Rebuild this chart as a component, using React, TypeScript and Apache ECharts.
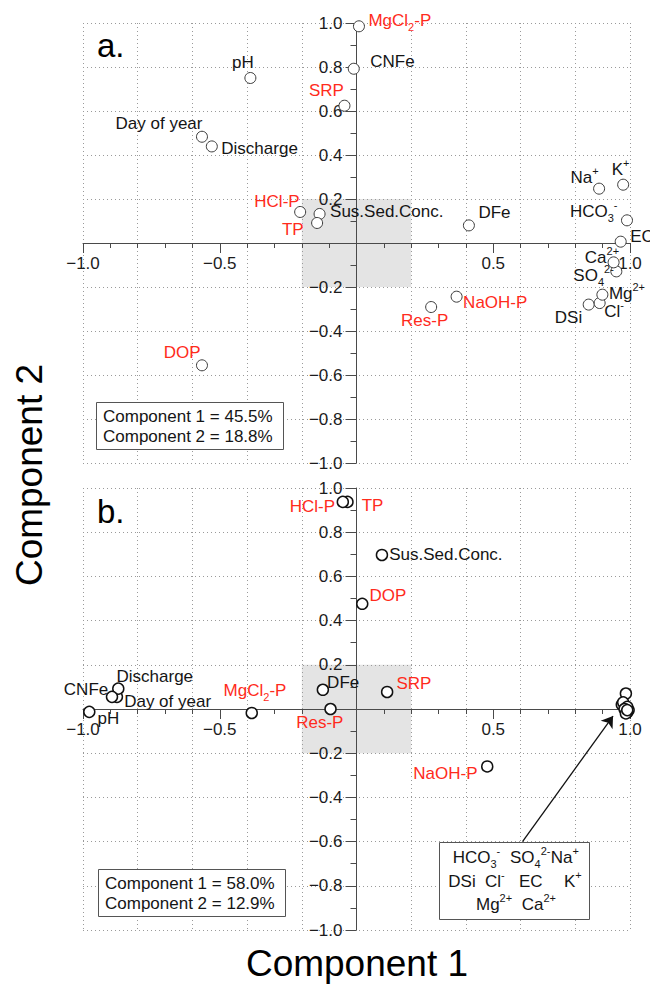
import React, { useEffect, useRef } from 'react';
import * as echarts from 'echarts';

// ---------------- data ----------------
const variables = [
  'pH', 'Day of year', 'Discharge', 'CNFe', 'Sus.Sed.Conc.', 'DFe', 'DSi', 'EC',
  'HCO3-', 'SO42-', 'Cl-', 'Na+', 'K+', 'Mg2+', 'Ca2+',
  'SRP', 'DOP', 'TP', 'Res-P', 'NaOH-P', 'HCl-P', 'MgCl2-P',
];
const phosphorusVars = ['SRP', 'DOP', 'TP', 'Res-P', 'NaOH-P', 'HCl-P', 'MgCl2-P'];

// panel a loadings
const comp1A = [-0.388, -0.565, -0.529, -0.01, -0.135, 0.411, 0.849, 0.966,
  0.989, 0.95, 0.889, 0.887, 0.975, 0.899, 0.94,
  -0.044, -0.565, -0.144, 0.273, 0.366, -0.206, 0.009];
const comp2A = [0.75, 0.483, 0.439, 0.792, 0.132, 0.08, -0.28, 0.006,
  0.103, -0.129, -0.273, 0.247, 0.265, -0.235, -0.088,
  0.624, -0.556, 0.091, -0.291, -0.244, 0.141, 0.985];

// panel b loadings
const comp1B = [-0.977, -0.876, -0.871, -0.894, 0.093, -0.123, 0.97, 0.995,
  0.985, 0.975, 0.99, 0.98, 0.99, 0.985, 0.99,
  0.112, 0.021, -0.033, -0.095, 0.478, -0.05, -0.383];
const comp2B = [-0.013, 0.055, 0.092, 0.055, 0.697, 0.087, 0.02, -0.005,
  0.07, 0.03, 0.01, 0.0, -0.015, -0.02, -0.005,
  0.077, 0.476, 0.937, 0.0, -0.26, 0.937, -0.018];

const varianceA = ['Component 1 = 45.5%', 'Component 2 = 18.8%'];
const varianceB = ['Component 1 = 58.0%', 'Component 2 = 12.9%'];
const clusterNote = [
  ['HCO{sub|3}{sup|-}', 'SO{sub|4}{sup|2-}', 'Na{sup|+}'],
  ['DSi', 'Cl{sup|-}', 'EC', 'K{sup|+}'],
  ['Mg{sup|2+}', 'Ca{sup|2+}'],
];
const shadeBox = [[-0.2, -0.2], [0.2, 0.2]];
const arrowFrom = [0.607, -0.6];
const arrowTo = [0.938, -0.032];

// ---------------- layout / style ----------------
const FONT = '"Liberation Sans", Arial, Helvetica, sans-serif';
const RED = '#ff2b1c';
const BLACK = '#151515';
const AXIS = '#4a4a4a';
const DOT = '#9a9a9a';
const SYM = 11;
const GRID_W = 547;
const GRID_A = { left: 83, top: 23, width: GRID_W, height: 440 };
const GRID_B = { left: 83, top: 488, width: GRID_W, height: 442 };

const richText: Record<string, string> = {
  'MgCl2-P': 'MgCl{sub|2}-P',
  'HCO3-': 'HCO{sub|3}{sup|-}',
  'SO42-': 'SO{sub|4}{sup|2-}',
  'Na+': 'Na{sup|+}',
  'K+': 'K{sup|+}',
  'Ca2+': 'Ca{sup|2+}',
  'Mg2+': 'Mg{sup|2+}',
  'Cl-': 'Cl{sup|-}',
};

type LP = [number, number, string];
const labelPosA: Record<string, LP> = {
  'pH': [-7, -15, 'center'],
  'Day of year': [1, -13, 'right'],
  'Discharge': [10, 3, 'left'],
  'SRP': [0, -15, 'right'],
  'HCl-P': [0, -10, 'right'],
  'TP': [-13, 7, 'right'],
  'Sus.Sed.Conc.': [11, -2, 'left'],
  'MgCl2-P': [10, -5, 'left'],
  'CNFe': [17, -7, 'left'],
  'DFe': [10, -12, 'left'],
  'Na+': [0, -11, 'right'],
  'K+': [-2, -15, 'center'],
  'HCO3-': [-9, -8, 'right'],
  'EC': [10, -5, 'left'],
  'Ca2+': [6, -4, 'right'],
  'SO42-': [-2, 5, 'right'],
  'Mg2+': [7, -1, 'left'],
  'Cl-': [5, 9, 'left'],
  'DSi': [-6, 13, 'right'],
  'Res-P': [-6, 14, 'center'],
  'NaOH-P': [7, 6, 'left'],
  'DOP': [-1, -12, 'right'],
};
const labelPosB: Record<string, LP> = {
  'HCl-P': [-7, 5, 'right'],
  'TP': [15, 4, 'left'],
  'Sus.Sed.Conc.': [8, 0, 'left'],
  'DOP': [8, -8, 'left'],
  'DFe': [5, -7, 'left'],
  'SRP': [10, -8, 'left'],
  'Res-P': [-10, 14, 'center'],
  'MgCl2-P': [4, -22, 'center'],
  'pH': [9, 7, 'left'],
  'CNFe': [-3, -7, 'right'],
  'Discharge': [-1, -11, 'left'],
  'Day of year': [8, 5, 'left'],
  'NaOH-P': [-9, 8, 'right'],
};

const fmt = (v: number) => {
  if (Math.abs(v) < 1e-9) return '';
  const s = Math.abs(v).toFixed(1);
  return v < 0 ? '\u2212' + s : s;
};

const richFor = (color: string) => ({
  sub: { fontSize: 11, fontFamily: FONT, color, verticalAlign: 'bottom', lineHeight: 11 },
  sup: { fontSize: 11, fontFamily: FONT, color, verticalAlign: 'top', lineHeight: 11 },
});

function buildData(c1: number[], c2: number[], pos: Record<string, LP>) {
  return variables.map((v, i) => {
    const p = pos[v];
    const color = phosphorusVars.includes(v) ? RED : BLACK;
    const text = richText[v] || v;
    return {
      name: v,
      value: [c1[i], c2[i]],
      label: p
        ? {
            show: true,
            position: [SYM / 2 + p[0], SYM / 2 + p[1]],
            align: p[2],
            verticalAlign: 'middle',
            color,
            fontSize: 17,
            fontFamily: FONT,
            lineHeight: 24,
            formatter: () => text,
            rich: richFor(color),
          }
        : { show: false },
    };
  });
}

function axesFor(gridIndex: number, g: { width: number; height: number }) {
  const tickStyle = { color: AXIS, width: 1 };
  const labelStyle = { fontSize: 17, fontFamily: FONT, color: '#1c1c1c' };
  const mainX = {
    type: 'value', gridIndex, min: -1, max: 1, interval: 0.5, z: 2,
    position: 'bottom', offset: -g.height / 2,
    axisLine: { show: true, onZero: false, lineStyle: tickStyle },
    axisTick: { show: true, length: 10, lineStyle: tickStyle },
    minorTick: { show: true, splitNumber: 5, length: 5, lineStyle: tickStyle },
    axisLabel: { ...labelStyle, formatter: fmt, margin: 12, showMinLabel: true, showMaxLabel: true },
    splitLine: { show: false },
  };
  const gridX = {
    type: 'value', gridIndex, min: -1, max: 1, interval: 0.2, z: 2,
    position: 'top',
    axisLine: { show: false, onZero: false },
    axisTick: { show: false },
    axisLabel: { show: false },
    splitLine: { show: true, lineStyle: { color: DOT, width: 1, type: [1, 3] } },
  };
  const y = {
    type: 'value', gridIndex, min: -1, max: 1, interval: 0.2, z: 2,
    position: 'left', offset: -g.width / 2,
    axisLine: { show: true, onZero: false, lineStyle: tickStyle },
    axisTick: { show: true, length: 11, lineStyle: tickStyle },
    minorTick: { show: true, splitNumber: 2, length: 6, lineStyle: tickStyle },
    axisLabel: { ...labelStyle, formatter: fmt, margin: 14, showMinLabel: true, showMaxLabel: true },
    splitLine: { show: true, lineStyle: { color: DOT, width: 1, type: [1, 3] } },
  };
  return { x: [mainX, gridX], y };
}

function statBox(x: number, y: number, lines: string[]) {
  return [
    {
      type: 'rect', z: 100,
      shape: { x: x + 0.5, y: y + 0.5, width: 187, height: 47 },
      style: { fill: '#fff', stroke: '#555', lineWidth: 1 },
    },
    ...lines.map((t, i) => ({
      type: 'text', z: 101, x: x + 7, y: y + 14 + i * 20.5,
      style: { text: t, fontSize: 17, fontFamily: FONT, fill: BLACK, align: 'left', verticalAlign: 'middle' },
    })),
  ];
}

function noteBox() {
  const lx = [[452.7, 510, 550.7], [448.3, 485, 519, 564], [476, 521.7]];
  const ly = [857, 881.5, 904];
  const els: any[] = [
    {
      type: 'rect', z: 100,
      shape: { x: 439.5, y: 842.5, width: 150, height: 77 },
      style: { fill: '#fff', stroke: '#555', lineWidth: 1 },
    },
  ];
  clusterNote.forEach((row, r) =>
    row.forEach((t, c) => {
      els.push({
        type: 'text', z: 101, x: lx[r][c], y: ly[r],
        style: {
          text: t, fontSize: 17, fontFamily: FONT, fill: BLACK, align: 'left', verticalAlign: 'middle',
          lineHeight: 24,
          rich: {
            sub: { fontSize: 11, fontFamily: FONT, fill: BLACK, verticalAlign: 'bottom', lineHeight: 11 },
            sup: { fontSize: 11, fontFamily: FONT, fill: BLACK, verticalAlign: 'top', lineHeight: 11 },
          },
        },
      });
    })
  );
  return els;
}

export default function App() {
  const ref = useRef<HTMLDivElement>(null);
  useEffect(() => {
    document.body.style.margin = '0';
    if (!ref.current) return;
    const chart = echarts.init(ref.current, null, { renderer: 'svg' });
    const a = axesFor(0, GRID_A);
    const b = axesFor(1, GRID_B);
    const shade = (z: number) => ({
      silent: true, z,
      label: { show: false },
      itemStyle: { color: '#e4e4e4' },
      data: [[{ coord: shadeBox[0] }, { coord: shadeBox[1] }]],
    });
    const option: any = {
      animation: false,
      grid: [GRID_A, GRID_B],
      xAxis: [...a.x, ...b.x],
      yAxis: [a.y, b.y],
      series: [
        {
          type: 'scatter', name: 'a', xAxisIndex: 0, yAxisIndex: 0, z: 3,
          symbol: 'circle', symbolSize: SYM,
          itemStyle: { color: '#fff', borderColor: '#3a3a3a', borderWidth: 1, opacity: 1 },
          emphasis: { disabled: true },
          data: buildData(comp1A, comp2A, labelPosA),
          markArea: shade(1),
        },
        {
          type: 'scatter', name: 'b', xAxisIndex: 2, yAxisIndex: 1, z: 3,
          symbol: 'circle', symbolSize: SYM,
          itemStyle: { color: '#fff', borderColor: '#111', borderWidth: 1.5, opacity: 1 },
          emphasis: { disabled: true },
          data: buildData(comp1B, comp2B, labelPosB),
          markArea: shade(1),
          markLine: {
            silent: true, z: 5,
            symbol: ['none', 'arrow'], symbolSize: 11,
            lineStyle: { color: '#111', width: 1.3, type: 'solid' },
            label: { show: false },
            data: [[{ coord: arrowFrom }, { coord: arrowTo }]],
          },
        },
      ],
      graphic: {
        elements: [
          { type: 'text', z: 100, x: 97, y: 45, style: { text: 'a.', fontSize: 33, fontFamily: FONT, fill: '#000', align: 'left', verticalAlign: 'middle' } },
          { type: 'text', z: 100, x: 97, y: 511, style: { text: 'b.', fontSize: 33, fontFamily: FONT, fill: '#000', align: 'left', verticalAlign: 'middle' } },
          { type: 'text', z: 100, x: 357, y: 963, style: { text: 'Component 1', fontSize: 37, fontFamily: FONT, fill: '#000', align: 'center', verticalAlign: 'middle' } },
          { type: 'text', z: 100, x: 29, y: 475, rotation: Math.PI / 2, style: { text: 'Component 2', fontSize: 37, fontFamily: FONT, fill: '#000', align: 'center', verticalAlign: 'middle' } },
          ...statBox(96, 402, varianceA),
          ...statBox(98, 869, varianceB),
          ...noteBox(),
        ],
      },
    };
    chart.setOption(option);
    return () => chart.dispose();
  }, []);
  return <div ref={ref} style={{ width: 650, height: 985 }} />;
}
